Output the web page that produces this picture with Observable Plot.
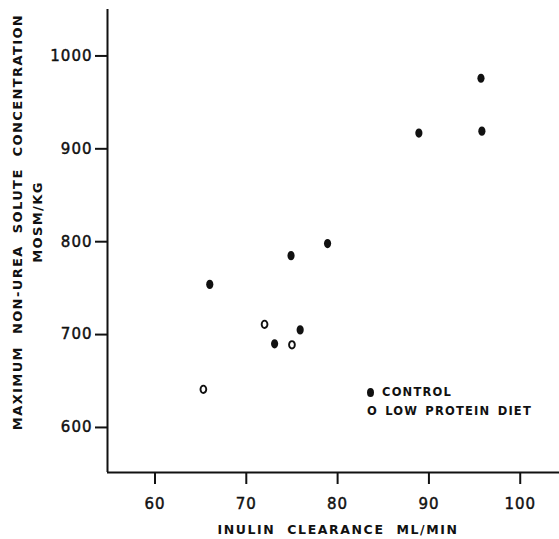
<!DOCTYPE html>
<html>
<head>
<meta charset="utf-8">
<script src="https://cdn.jsdelivr.net/npm/d3@7"></script>
<script src="https://cdn.jsdelivr.net/npm/@observablehq/plot@0.6"></script>
<style>
  html, body { margin: 0; padding: 0; background: #fff; }
  #wrap { position: relative; width: 559px; height: 539px; font-family: "DejaVu Sans", sans-serif; color: #111; }
  #wrap svg { position: absolute; left: 0; top: 0; }
  #wrap svg text { stroke: #111; stroke-width: 0.45px; letter-spacing: 1px; }
  .t { position: absolute; white-space: nowrap; font-weight: bold; }
  #xtitle { left: 338px; top: 522px; transform: translateX(-50%); font-size: 12.5px; letter-spacing: 1.6px; word-spacing: 6px; }
  #ytitle { left: 28px; top: 222px; transform: translate(-50%, -50%) rotate(-90deg); font-size: 13px; text-align: center; line-height: 20px; letter-spacing: 1.4px; word-spacing: 6px; }
  #legend { left: 367px; top: 383px; font-size: 11.5px; line-height: 19px; letter-spacing: 1.2px; word-spacing: 2px; }
  .fd { display: inline-block; width: 7px; height: 9px; border-radius: 50%; background: #111; vertical-align: -1px; margin-right: 8px; }
</style>
</head>
<body>
<div id="wrap"></div>
<script>
// Data
const controlClearance = [66.0, 74.9, 78.9, 75.9, 73.1, 88.9, 95.7, 95.8];
const controlConc      = [754, 785, 798, 705, 690, 917, 976, 919];
const lowProteinClearance = [72.0, 75.0, 65.3];
const lowProteinConc      = [711, 689, 641];
const xTicks = [60, 70, 80, 90, 100];
const yTicks = [600, 700, 800, 900, 1000];
const xDomain = [54.8, 104.3];
const yDomain = [551.5, 1050];
const xTitle = "INULIN CLEARANCE ML/MIN";
const yTitle1 = "MAXIMUM NON-UREA SOLUTE CONCENTRATION";
const yTitle2 = "MOSM/KG";
const legendLabels = ["CONTROL", "LOW PROTEIN DIET"];

const control = controlClearance.map((x, i) => ({x, y: controlConc[i]}));
const lowProtein = lowProteinClearance.map((x, i) => ({x, y: lowProteinConc[i]}));

// ellipse symbol (slightly taller than wide)
const ellipse = {
  draw(ctx, size) {
    const r = Math.sqrt(size / Math.PI);
    const rx = r * 0.78, ry = r, k = 0.5523;
    ctx.moveTo(rx, 0);
    ctx.bezierCurveTo(rx, k * ry, k * rx, ry, 0, ry);
    ctx.bezierCurveTo(-k * rx, ry, -rx, k * ry, -rx, 0);
    ctx.bezierCurveTo(-rx, -k * ry, -k * rx, -ry, 0, -ry);
    ctx.bezierCurveTo(k * rx, -ry, rx, -k * ry, rx, 0);
    ctx.closePath();
  }
};

const chart = Plot.plot({
  width: 559,
  height: 539,
  marginLeft: 107,
  marginRight: 0,
  marginTop: 9,
  marginBottom: 67,
  style: { fontFamily: "DejaVu Sans", color: "#111", background: "transparent" },
  x: { domain: xDomain },
  y: { domain: yDomain },
  marks: [
    Plot.axisX({ ticks: xTicks, tickFormat: d => String(d), tickSize: 12, tickPadding: 14, fontSize: 15, label: null, strokeWidth: 2 }),
    Plot.axisY({ ticks: yTicks, tickFormat: d => String(d), tickSize: 12, tickPadding: 3, fontSize: 15, label: null, strokeWidth: 2 }),
    Plot.ruleX([xDomain[0]], { strokeWidth: 2, stroke: "#111" }),
    Plot.ruleY([yDomain[0]], { strokeWidth: 2, stroke: "#111" }),
    Plot.dot(control, { x: "x", y: "y", symbol: ellipse, r: 4.6, fill: "#111", stroke: "none" }),
    Plot.dot(lowProtein, { x: "x", y: "y", symbol: ellipse, r: 3.7, fill: "white", stroke: "#111", strokeWidth: 1.9 })
  ]
});

const wrap = document.getElementById("wrap");
wrap.appendChild(chart);

const xt = document.createElement("div");
xt.className = "t"; xt.id = "xtitle"; xt.textContent = xTitle;
wrap.appendChild(xt);

const yt = document.createElement("div");
yt.className = "t"; yt.id = "ytitle";
yt.innerHTML = `<div>${yTitle1}</div><div>${yTitle2}</div>`;
wrap.appendChild(yt);

const lg = document.createElement("div");
lg.className = "t"; lg.id = "legend";
lg.innerHTML = `<div><span class="fd"></span>${legendLabels[0]}</div><div>O ${legendLabels[1]}</div>`;
wrap.appendChild(lg);
</script>
</body>
</html>
